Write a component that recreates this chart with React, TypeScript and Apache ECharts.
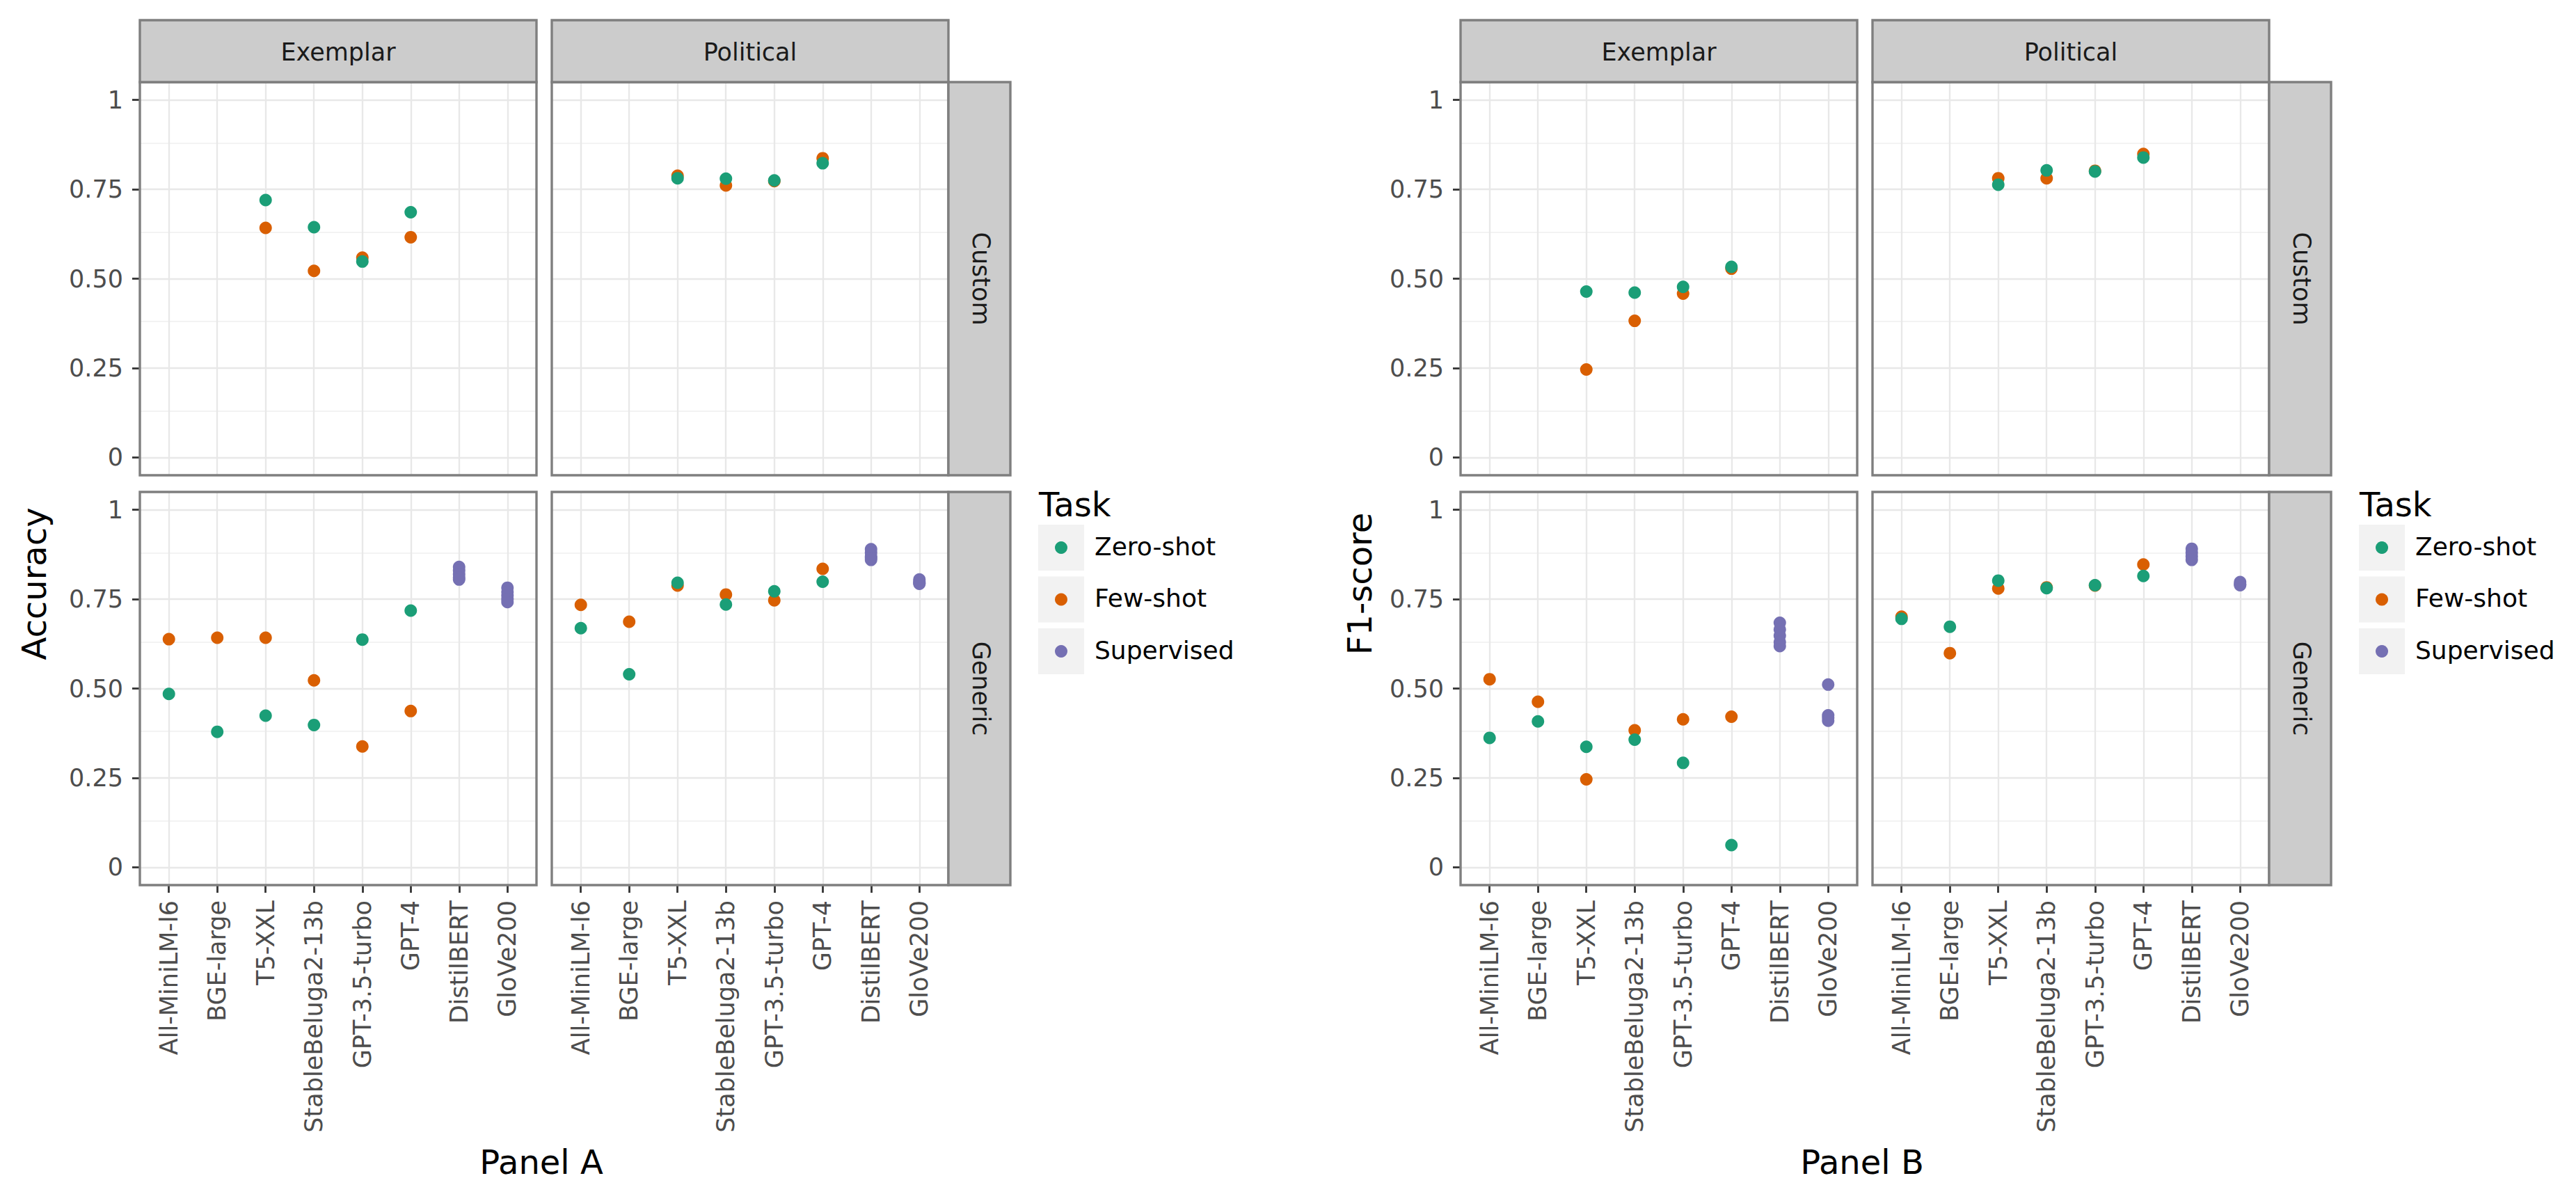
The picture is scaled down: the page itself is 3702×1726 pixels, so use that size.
import React, { useEffect, useRef } from "react";
import * as echarts from "echarts";

// ---------- categories / labels ----------
const MODELS = ["All-MiniLM-l6", "BGE-large", "T5-XXL", "StableBeluga2-13b", "GPT-3.5-turbo", "GPT-4", "DistilBERT", "GloVe200"];
const DATASETS = ["Exemplar", "Political"];
const DOMAINS = ["Custom", "Generic"];
const TASKS = ["Zero-shot", "Few-shot", "Supervised"];
const TASK_COLORS = ["#1b9e77", "#d95f02", "#7570b3"];
const Y_TICKS = [0, 0.25, 0.5, 0.75, 1];
const Y_TICK_LABELS = ["0", "0.25", "0.50", "0.75", "1"];
const Y_MINOR = [0.125, 0.375, 0.625, 0.875];
const PANEL_TITLES = ["Panel A", "Panel B"];
const METRIC_TITLES = ["Accuracy", "F1-score"];

// ---------- Panel A: accuracy ----------
const accExemplarCustomZero = [null, null, 0.72, 0.644, 0.548, 0.686, null, null];
const accExemplarCustomFew = [null, null, 0.642, 0.522, 0.559, 0.616, null, null];
const accPoliticalCustomZero = [null, null, 0.781, 0.78, 0.775, 0.823, null, null];
const accPoliticalCustomFew = [null, null, 0.788, 0.761, 0.773, 0.837, null, null];
const accExemplarGenericZero = [0.485, 0.379, 0.424, 0.398, 0.637, 0.718, null, null];
const accExemplarGenericFew = [0.638, 0.642, 0.642, 0.523, 0.338, 0.437, null, null];
const accPoliticalGenericZero = [0.669, 0.54, 0.796, 0.735, 0.772, 0.799, null, null];
const accPoliticalGenericFew = [0.734, 0.687, 0.788, 0.763, 0.747, 0.835, null, null];
const accExemplarSupDistilBERT = [0.84, 0.83, 0.82, 0.81, 0.805];
const accExemplarSupGloVe = [0.782, 0.77, 0.76, 0.75, 0.742];
const accPoliticalSupDistilBERT = [0.89, 0.88, 0.87, 0.865, 0.86];
const accPoliticalSupGloVe = [0.805, 0.8, 0.795, 0.793];

// ---------- Panel B: F1-score ----------
const f1ExemplarCustomZero = [null, null, 0.464, 0.461, 0.477, 0.533, null, null];
const f1ExemplarCustomFew = [null, null, 0.246, 0.382, 0.458, 0.528, null, null];
const f1PoliticalCustomZero = [null, null, 0.763, 0.803, 0.8, 0.839, null, null];
const f1PoliticalCustomFew = [null, null, 0.781, 0.781, 0.802, 0.849, null, null];
const f1ExemplarGenericZero = [0.362, 0.408, 0.337, 0.357, 0.292, 0.062, null, null];
const f1ExemplarGenericFew = [0.526, 0.463, 0.246, 0.383, 0.414, 0.421, null, null];
const f1PoliticalGenericZero = [0.695, 0.673, 0.802, 0.781, 0.789, 0.815, null, null];
const f1PoliticalGenericFew = [0.701, 0.599, 0.78, 0.783, 0.788, 0.847, null, null];
const f1ExemplarSupDistilBERT = [0.684, 0.665, 0.648, 0.63, 0.619];
const f1ExemplarSupGloVe = [0.511, 0.425, 0.418, 0.41];
const f1PoliticalSupDistilBERT = [0.891, 0.88, 0.87, 0.86];
const f1PoliticalSupGloVe = [0.798, 0.792, 0.789];

// lookup: [metric][dataset][domain] -> {zero, few, distil, glove}
const FACETS: any = [
  [
    [
      { zero: accExemplarCustomZero, few: accExemplarCustomFew, distil: [], glove: [] },
      { zero: accExemplarGenericZero, few: accExemplarGenericFew, distil: accExemplarSupDistilBERT, glove: accExemplarSupGloVe },
    ],
    [
      { zero: accPoliticalCustomZero, few: accPoliticalCustomFew, distil: [], glove: [] },
      { zero: accPoliticalGenericZero, few: accPoliticalGenericFew, distil: accPoliticalSupDistilBERT, glove: accPoliticalSupGloVe },
    ],
  ],
  [
    [
      { zero: f1ExemplarCustomZero, few: f1ExemplarCustomFew, distil: [], glove: [] },
      { zero: f1ExemplarGenericZero, few: f1ExemplarGenericFew, distil: f1ExemplarSupDistilBERT, glove: f1ExemplarSupGloVe },
    ],
    [
      { zero: f1PoliticalCustomZero, few: f1PoliticalCustomFew, distil: [], glove: [] },
      { zero: f1PoliticalGenericZero, few: f1PoliticalGenericFew, distil: f1PoliticalSupDistilBERT, glove: f1PoliticalSupGloVe },
    ],
  ],
];

// ---------- layout ----------
const FONT = "DejaVu Sans";
const PANEL_OFFSET = 1898;
const FACET_LEFT = 201;
const FACET_TOP = 118;
const FACET_W = 570;
const FACET_H = 565;
const COL_STEP = 592;
const ROW_STEP = 589;
const STRIP = 89;
const BORDER = "#7f7f7f";

function toPairs(arr: (number | null)[]) {
  const out: number[][] = [];
  arr.forEach((v, i) => {
    if (v !== null && v !== undefined) out.push([i, v]);
  });
  return out;
}

function buildOption() {
  const grid: any[] = [];
  const xAxis: any[] = [];
  const yAxis: any[] = [];
  const series: any[] = [];
  const graphic: any[] = [];
  const xIdx = MODELS.map((_, i) => i);

  for (let p = 0; p < 2; p++) {
    const ox = p * PANEL_OFFSET;
    for (let r = 0; r < 2; r++) {
      for (let c = 0; c < 2; c++) {
        const g = grid.length;
        const left = FACET_LEFT + ox + c * COL_STEP;
        const top = FACET_TOP + r * ROW_STEP;
        grid.push({ left, top, width: FACET_W, height: FACET_H, show: false, containLabel: false });
        xAxis.push({
          gridIndex: g,
          type: "value",
          min: -0.6,
          max: 7.6,
          position: "bottom",
          axisLine: { show: false, onZero: false },
          splitLine: { show: false },
          axisTick: { show: r === 1, customValues: xIdx, length: 11, lineStyle: { color: "#333333", width: 2.8 } },
          axisLabel: {
            show: r === 1,
            customValues: xIdx,
            rotate: 90,
            margin: 22,
            color: "#4d4d4d",
            fontSize: 35,
            fontFamily: FONT,
            formatter: (v: number) => MODELS[Math.round(v)] ?? "",
          },
        });
        yAxis.push({
          gridIndex: g,
          type: "value",
          min: -0.05,
          max: 1.05,
          position: "left",
          axisLine: { show: false, onZero: false },
          splitLine: { show: false },
          axisTick: { show: c === 0, customValues: Y_TICKS, length: 11, lineStyle: { color: "#333333", width: 2.8 } },
          axisLabel: {
            show: c === 0,
            customValues: Y_TICKS,
            margin: 24,
            color: "#4d4d4d",
            fontSize: 35,
            fontFamily: FONT,
            formatter: (v: number) => {
              const k = Y_TICKS.findIndex((t) => Math.abs(t - v) < 1e-6);
              return k >= 0 ? Y_TICK_LABELS[k] : "";
            },
          },
        });

        // gridlines via markLine
        const mlData: any[] = [];
        Y_MINOR.forEach((v) => mlData.push({ yAxis: v, lineStyle: { color: "#f3f3f3", width: 2, type: "solid" } }));
        Y_TICKS.forEach((v) => mlData.push({ yAxis: v, lineStyle: { color: "#e8e8e8", width: 2.4, type: "solid" } }));
        xIdx.forEach((v) => mlData.push({ xAxis: v, lineStyle: { color: "#e8e8e8", width: 2.4, type: "solid" } }));
        series.push({
          type: "scatter",
          name: "grid" + g,
          xAxisIndex: g,
          yAxisIndex: g,
          data: [],
          silent: true,
          z: 1,
          markLine: {
            silent: true,
            z: 1,
            symbol: ["none", "none"],
            label: { show: false },
            emphasis: { disabled: true },
            animation: false,
            data: mlData,
          },
        });

        const f = FACETS[p][c][r];
        const sup: number[][] = [];
        f.distil.forEach((v: number) => sup.push([6, v]));
        f.glove.forEach((v: number) => sup.push([7, v]));
        const taskData = [toPairs(f.zero), toPairs(f.few), sup];
        [1, 2, 0].forEach((t) => {
          series.push({
            type: "scatter",
            name: TASKS[t],
            xAxisIndex: g,
            yAxisIndex: g,
            data: taskData[t],
            symbol: "circle",
            symbolSize: 18,
            silent: true,
            z: 10,
            itemStyle: { color: TASK_COLORS[t], opacity: 1 },
          });
        });

        // panel border
        graphic.push({
          type: "rect",
          z: 50,
          shape: { x: left, y: top, width: FACET_W, height: FACET_H },
          style: { fill: "none", stroke: BORDER, lineWidth: 3.4 },
          silent: true,
        });
      }
    }

    // top strips
    for (let c = 0; c < 2; c++) {
      const left = FACET_LEFT + ox + c * COL_STEP;
      graphic.push({
        type: "rect",
        z: 50,
        shape: { x: left, y: FACET_TOP - STRIP, width: FACET_W, height: STRIP },
        style: { fill: "#cccccc", stroke: BORDER, lineWidth: 3.4 },
        silent: true,
      });
      graphic.push({
        type: "text",
        z: 51,
        x: left + FACET_W / 2,
        y: FACET_TOP - STRIP / 2 + 1,
        style: { text: DATASETS[c], fontSize: 35, fontFamily: FONT, fill: "#1a1a1a", align: "center", verticalAlign: "middle" },
        silent: true,
      });
    }
    // right strips
    for (let r = 0; r < 2; r++) {
      const x = FACET_LEFT + ox + COL_STEP + FACET_W;
      const top = FACET_TOP + r * ROW_STEP;
      graphic.push({
        type: "rect",
        z: 50,
        shape: { x, y: top, width: STRIP, height: FACET_H },
        style: { fill: "#cccccc", stroke: BORDER, lineWidth: 3.4 },
        silent: true,
      });
      graphic.push({
        type: "text",
        z: 51,
        x: x + STRIP / 2 + 2,
        y: top + FACET_H / 2,
        rotation: -Math.PI / 2,
        style: { text: DOMAINS[r], fontSize: 35, fontFamily: FONT, fill: "#1a1a1a", align: "center", verticalAlign: "middle" },
        silent: true,
      });
    }

    // axis titles
    graphic.push({
      type: "text",
      z: 51,
      x: (p === 0 ? 49 : 56) + ox,
      y: 839,
      rotation: Math.PI / 2,
      style: { text: METRIC_TITLES[p], fontSize: 48, fontFamily: FONT, fill: "#000000", align: "center", verticalAlign: "middle" },
      silent: true,
    });
    graphic.push({
      type: "text",
      z: 51,
      x: 778 + ox,
      y: 1670,
      style: { text: PANEL_TITLES[p], fontSize: 48, fontFamily: FONT, fill: "#000000", align: "center", verticalAlign: "middle" },
      silent: true,
    });

    // legend
    graphic.push({
      type: "text",
      z: 51,
      x: 1493 + ox,
      y: 725,
      style: { text: "Task", fontSize: 48, fontFamily: FONT, fill: "#000000", align: "left", verticalAlign: "middle" },
      silent: true,
    });
    TASKS.forEach((name, k) => {
      const ky = 754 + k * 74.5;
      graphic.push({
        type: "rect",
        z: 50,
        shape: { x: 1492 + ox, y: ky, width: 66, height: 66 },
        style: { fill: "#f2f2f2" },
        silent: true,
      });
      graphic.push({
        type: "circle",
        z: 51,
        shape: { cx: 1525 + ox, cy: ky + 33, r: 9 },
        style: { fill: TASK_COLORS[k] },
        silent: true,
      });
      graphic.push({
        type: "text",
        z: 51,
        x: 1573 + ox,
        y: ky + 31,
        style: { text: name, fontSize: 36, fontFamily: FONT, fill: "#000000", align: "left", verticalAlign: "middle" },
        silent: true,
      });
    });
  }

  return {
    animation: false,
    backgroundColor: "#ffffff",
    textStyle: { fontFamily: FONT },
    grid,
    xAxis,
    yAxis,
    series,
    graphic: { elements: graphic },
  };
}

export default function App() {
  const ref = useRef<HTMLDivElement>(null);
  useEffect(() => {
    if (!ref.current) return;
    const chart = echarts.init(ref.current, null, { renderer: "svg" });
    chart.setOption(buildOption() as any);
    return () => chart.dispose();
  }, []);
  return <div ref={ref} style={{ position: "absolute", left: 0, top: 0, width: 3702, height: 1726, background: "#fff" }} />;
}
